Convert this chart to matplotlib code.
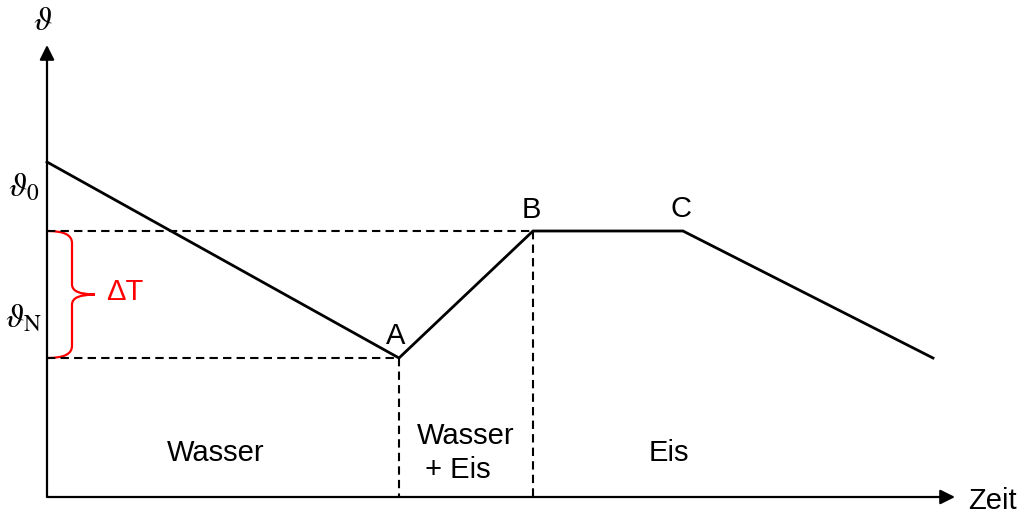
import matplotlib.pyplot as plt
from matplotlib.path import Path
from matplotlib.patches import PathPatch

# cooling curve: time (arbitrary units) and temperature (arbitrary units)
t_curve = [0.0, 35.2, 48.6, 63.6, 88.6]
theta_curve = [33.5, 13.9, 26.6, 26.6, 13.9]

theta_n = 26.6
theta_low = 13.9
t_a = 35.2
t_b = 48.6
t_c = 63.6
t_axis_end = 90.8
theta_axis_end = 45.2

phase_labels = ['Wasser', 'Wasser\n + Eis', 'Eis']
phase_pos = [(16.9, 4.4), (41.9, 4.4), (62.2, 4.4)]

plt.rcParams['mathtext.fontset'] = 'stix'
fig = plt.figure(figsize=(10.19, 5.15), dpi=100)
ax = fig.add_axes([0, 0, 1, 1])
ax.set_xlim(-4.7, 97.2)
ax.set_ylim(-1.8, 49.7)
ax.axis('off')

arrow = dict(arrowstyle='-|>', lw=1.6, color='black', mutation_scale=22, shrinkA=0, shrinkB=0)
ax.annotate('', xy=(t_axis_end, 0), xytext=(0, 0), arrowprops=arrow)
ax.annotate('', xy=(0, theta_axis_end), xytext=(0, 0), arrowprops=arrow)

dash = dict(color='black', lw=1.5, dashes=(4, 2.5))
ax.plot([0, t_b], [theta_n, theta_n], **dash)
ax.plot([0, t_a], [theta_low, theta_low], **dash)
ax.plot([t_a, t_a], [theta_low, 0], **dash)
ax.plot([t_b, t_b], [theta_n, 0], **dash)

ax.plot(t_curve, theta_curve, color='black', lw=2.0, solid_joinstyle='miter')

font = dict(family='Liberation Sans', fontsize=21)
ax.text(t_a - 0.3, theta_low + 0.8, 'A', ha='center', va='bottom', **font)
ax.text(t_b - 0.2, theta_n + 0.7, 'B', ha='center', va='bottom', **font)
ax.text(t_c - 0.2, theta_n + 0.8, 'C', ha='center', va='bottom', **font)
for i, (lab, (x, y)) in enumerate(zip(phase_labels, phase_pos)):
    if i == 1:
        ax.text(37.0, y, lab, ha='left', va='center', multialignment='left',
                linespacing=1.3, **font)
    else:
        ax.text(x, y, lab, ha='center', va='center', **font)
ax.text(92.1, -0.4, 'Zeit', ha='left', va='center', **font)

# axis symbols
ax.text(-0.4, 47.7, r'$\vartheta$', ha='center', va='center', fontsize=24)
ax.text(-2.3, 31.0, r'$\vartheta_{\mathrm{0}}$', ha='center', va='center', fontsize=24)
ax.text(-2.3, 17.9, r'$\vartheta_{\mathrm{N}}$', ha='center', va='center', fontsize=24)

# brace marking the undercooling
mid = (theta_n + theta_low) / 2
bx, tip = 2.5, 4.8
verts = [(0.1, theta_n), (bx, theta_n), (bx, theta_n - 1.2),
         (bx, mid + 1.0), (bx, mid), (tip, mid),
         (bx, mid), (bx, mid - 1.0),
         (bx, theta_low + 1.2), (bx, theta_low), (0.1, theta_low)]
codes = [Path.MOVETO, Path.CURVE3, Path.CURVE3,
         Path.LINETO, Path.CURVE3, Path.CURVE3,
         Path.CURVE3, Path.CURVE3,
         Path.LINETO, Path.CURVE3, Path.CURVE3]
ax.add_patch(PathPatch(Path(verts, codes), fill=False, edgecolor='red', lw=1.6))
ax.text(5.9, mid + 0.2, 'ΔT', color='red', ha='left', va='center', **font)

fig.savefig('out.png', dpi=100)
